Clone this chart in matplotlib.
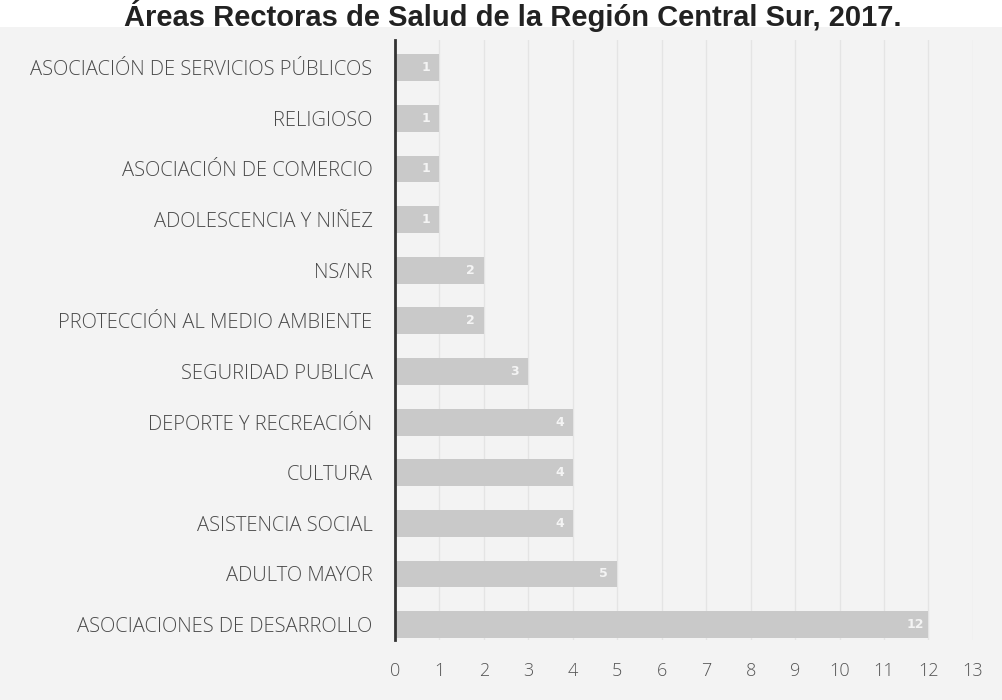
import matplotlib
matplotlib.use("Agg")
from matplotlib import pyplot as plt

# Organizaciones por área, de abajo hacia arriba
categorias = [
    "ASOCIACIONES DE DESARROLLO",
    "ADULTO MAYOR",
    "ASISTENCIA SOCIAL",
    "CULTURA",
    "DEPORTE Y RECREACIÓN",
    "SEGURIDAD PUBLICA",
    "PROTECCIÓN AL MEDIO AMBIENTE",
    "NS/NR",
    "ADOLESCENCIA Y NIÑEZ",
    "ASOCIACIÓN DE COMERCIO",
    "RELIGIOSO",
    "ASOCIACIÓN DE SERVICIOS PÚBLICOS",
]
valores = [12, 5, 4, 4, 4, 3, 2, 2, 1, 1, 1, 1]
ticks_x = list(range(0, 14))

titulo = "Áreas Rectoras de Salud de la Región Central Sur, 2017."

fig = plt.figure(figsize=(10.02, 7.0), dpi=100)
fig.patch.set_facecolor("#f3f3f3")

# franja blanca superior donde va el titulo
fig.patches.append(plt.Rectangle((0, 0.962), 1, 0.038, transform=fig.transFigure,
                                 facecolor="white", edgecolor="none", zorder=0))
fig.text(0.512, 1.0, titulo, ha="center", va="top", fontsize=21,
         fontweight="bold", family="Liberation Sans", color="#222222")

ax = fig.add_axes([0.394, 0.086, 0.577, 0.857])
ax.set_facecolor("none")

y = list(range(len(categorias)))
ax.barh(y, valores, height=0.53, color="#c9c9c9", edgecolor="none", zorder=2)

for yi, v in zip(y, valores):
    ax.text(v - 0.3, yi, str(v), ha="center", va="center", fontsize=9,
            color="#f4f4f4", fontweight="bold", zorder=3)

ax.set_xlim(0, 13)
ax.set_ylim(-0.3, 11.55)
ax.set_xticks(ticks_x)
ax.set_xticklabels([str(t) for t in ticks_x], fontsize=13, color="#555555",
                   family="Open Sans", fontweight="light")
ax.set_yticks(y)
ax.set_yticklabels(categorias, fontsize=14.5, color="#4a4a4a", family="Open Sans",
                   fontweight="light")
ax.tick_params(axis="both", length=0)
ax.tick_params(axis="x", pad=16)
ax.tick_params(axis="y", pad=16)

ax.grid(axis="x", color="#e4e4e4", linewidth=1.0, zorder=1)
for s in ["top", "right", "bottom"]:
    ax.spines[s].set_visible(False)
ax.spines["left"].set_color("#333333")
ax.spines["left"].set_linewidth(2)

plt.savefig("out.png", dpi=100, facecolor=fig.get_facecolor())
